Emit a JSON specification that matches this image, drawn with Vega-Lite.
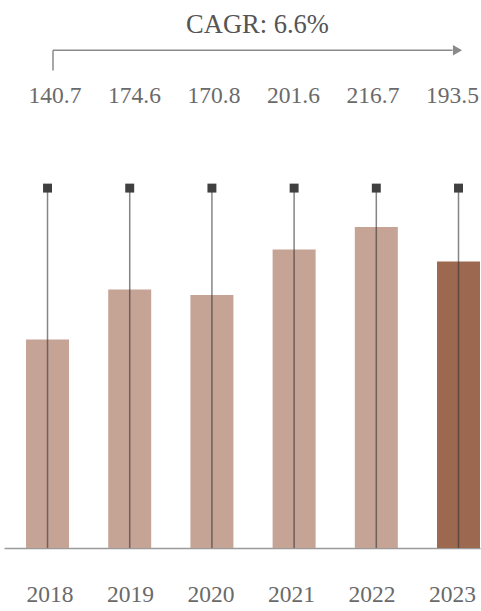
{
  "$schema": "https://vega.github.io/schema/vega-lite/v6.json",
  "width": 476,
  "height": 548,
  "autosize": {"type": "none"},
  "padding": {"left": 4, "right": 1, "top": 0, "bottom": 63},
  "background": "white",
  "config": {"view": {"stroke": null}, "font": "Liberation Serif"},
  "data": {"values": [
    {"year": "2018", "value": 140.7},
    {"year": "2019", "value": 174.6},
    {"year": "2020", "value": 170.8},
    {"year": "2021", "value": 201.6},
    {"year": "2022", "value": 216.7},
    {"year": "2023", "value": 193.5}
  ]},
  "resolve": {"scale": {"x": "independent"}, "axis": {"x": "independent"}},
  "layer": [
    {
      "encoding": {
        "x": {
          "field": "year", "type": "ordinal",
          "scale": {"paddingInner": 0.477, "paddingOuter": 0.134, "align": 1},
          "axis": {"title": null, "labels": false, "ticks": false, "domainColor": "#9a9a9a", "domainWidth": 1.5}
        }
      },
      "layer": [
        {
          "mark": {"type": "bar"},
          "encoding": {
            "y": {"field": "value", "type": "quantitative", "scale": {"domain": [0, 370], "nice": false}, "axis": null},
            "color": {"condition": {"test": "datum.year === '2023'", "value": "#9d6850"}, "value": "#c5a395"}
          }
        },
        {
          "mark": {"type": "rule", "color": "#333333", "opacity": 0.6, "strokeWidth": 1.5},
          "encoding": {"y": {"datum": 0}, "y2": {"datum": 243}}
        },
        {
          "mark": {"type": "point", "shape": "square", "filled": true, "size": 80, "color": "#404040", "opacity": 1},
          "encoding": {"y": {"datum": 243}}
        }
      ]
    },
    {
      "layer": [
        {
          "mark": {"type": "text", "fontSize": 23.5, "color": "#6a6a6a", "baseline": "middle"},
          "encoding": {
            "x": {"field": "year", "type": "ordinal", "scale": {"type": "point", "padding": 0.4937, "align": 0.6497, "domain": ["2018", "2019", "2020", "2021", "2022", "2023"]}, "axis": null},
            "y": {"datum": 304.9},
            "text": {"field": "value", "type": "quantitative", "format": ".1f"}
          }
        },
        {
          "data": {"values": [{"label": "CAGR: 6.6%"}]},
          "layer": [
            {
              "mark": {"type": "rule", "color": "#8a8a8a", "strokeWidth": 1.5, "xOffset": -2, "x2Offset": 0},
              "encoding": {"x": {"datum": "2018", "type": "ordinal", "axis": null}, "x2": {"datum": "2023"}, "y": {"datum": 336}}
            },
            {
              "mark": {"type": "rule", "color": "#8a8a8a", "strokeWidth": 1.5, "xOffset": -2},
              "encoding": {"x": {"datum": "2018", "type": "ordinal", "axis": null}, "y": {"datum": 336}, "y2": {"datum": 322.4}}
            },
            {
              "mark": {"type": "point", "shape": "triangle-right", "filled": true, "size": 110, "color": "#8a8a8a", "opacity": 1, "xOffset": 5},
              "encoding": {"x": {"datum": "2023", "type": "ordinal", "axis": null}, "y": {"datum": 336}}
            },
            {
              "mark": {"type": "text", "fontSize": 26.5, "color": "#555555", "baseline": "middle", "dx": 43.5},
              "encoding": {"x": {"datum": "2020", "type": "ordinal", "axis": null}, "y": {"datum": 353}, "text": {"field": "label"}}
            }
          ]
        }
      ]
    },
    {
      "mark": {"type": "text", "fontSize": 23.5, "color": "#6a6a6a", "baseline": "middle"},
      "encoding": {
        "x": {"field": "year", "type": "ordinal", "scale": {"type": "point", "padding": 0.4565, "align": 0.626}, "axis": null},
        "y": {"datum": -31.7},
        "text": {"field": "year"}
      }
    }
  ]
}
